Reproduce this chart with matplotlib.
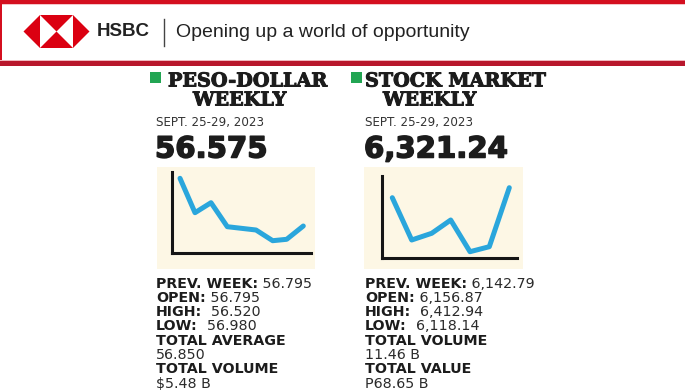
import matplotlib.pyplot as plt
from matplotlib.patches import Rectangle, Polygon
import matplotlib.patheffects as pe

W, H = 685, 391

# weekly sparkline shapes as printed (x step, height above the baseline)
peso_x = [8.3, 23.3, 39.3, 55.6, 84.3, 101.0, 115.0, 131.6]
peso_y = [74.7, 40.3, 50.3, 26.3, 23.0, 12.3, 13.7, 27.0]
psei_x = [10.6, 30.0, 50.0, 69.0, 88.3, 107.6, 127.6]
psei_y = [60.3, 18.0, 24.7, 38.0, 6.3, 11.3, 70.3]

peso_title = ["PESO-DOLLAR", "WEEKLY"]
psei_title = ["STOCK MARKET", "WEEKLY"]
week = "SEPT. 25-29, 2023"
peso_close = "56.575"
psei_close = "6,321.24"
peso_labels = ["PREV. WEEK:", "OPEN:", "HIGH:", "LOW:", "TOTAL AVERAGE", "TOTAL VOLUME"]
peso_values = ["56.795", "56.795", "56.520", "56.980", "56.850", "$5.48 B"]
psei_labels = ["PREV. WEEK:", "OPEN:", "HIGH:", "LOW:", "TOTAL VOLUME", "TOTAL VALUE"]
psei_values = ["6,142.79", "6,156.87", "6,412.94", "6,118.14", "11.46 B", "P68.65 B"]

RED = "#d40f1f"
GREEN = "#22a553"
BLUE = "#2aa6dc"
CREAM = "#fdf7e5"
INK = "#1c1c1c"

fig = plt.figure(figsize=(W / 100, H / 100), dpi=100)
bg = fig.add_axes([0, 0, 1, 1])
bg.set_xlim(0, W)
bg.set_ylim(H, 0)
bg.axis("off")

# banner
bg.add_patch(Rectangle((0, 0), W, 4.2, color=RED, lw=0))
bg.add_patch(Rectangle((0, 4.2), W, 1.2, color="#f4c4c8", lw=0))
bg.add_patch(Rectangle((0, 0), 2.5, 64, color=RED, lw=0))
bg.add_patch(Rectangle((0, 59.5), W, 1.2, color="#f0b8be", lw=0))
bg.add_patch(Rectangle((0, 60.7), W, 5, color="#b8172c", lw=0))

cx, cy, h = 56.5, 31.5, 16.5
for pts in [[(cx - 2 * h, cy), (cx - h, cy - h), (cx - h, cy + h)],
            [(cx + 2 * h, cy), (cx + h, cy - h), (cx + h, cy + h)],
            [(cx - h, cy - h), (cx + h, cy - h), (cx, cy)],
            [(cx - h, cy + h), (cx + h, cy + h), (cx, cy)]]:
    bg.add_patch(Polygon(pts, closed=True, color="#db0011", lw=0))

bg.text(97, 32, "HSBC", fontsize=13.5, fontweight="bold", family="Liberation Sans",
        color="#222222", va="center", ha="left")
bg.plot([164.5, 164.5], [19, 46], color="#444444", lw=1)
bg.text(176, 32.5, "Opening up a world of opportunity", fontsize=14,
        family="Liberation Sans", color="#222222", va="center", ha="left")

heavy = [pe.withStroke(linewidth=0.7, foreground=INK)]
thick = [pe.withStroke(linewidth=1.1, foreground=INK)]


def panel(sq_x, title_x, weekly_x, text_x, title, close, xs, ys, labels, values,
          cream, axes_box):
    bg.add_patch(Rectangle((sq_x, 72), 11, 11, color=GREEN, lw=0))
    bg.text(title_x, 86.5, title[0], fontsize=13.8, fontweight="bold", family="DejaVu Serif",
            color=INK, va="baseline", path_effects=heavy)
    bg.text(weekly_x, 105.5, title[1], fontsize=13.8, fontweight="bold", family="DejaVu Serif",
            color=INK, va="baseline", path_effects=heavy)
    bg.text(text_x, 126, week, fontsize=8.6, color="#333333", va="baseline")
    bg.text(text_x - 1, 157.5, close, fontsize=21, fontweight="heavy", color=INK,
            va="baseline", path_effects=thick)

    x0, y0, x1, y1 = cream
    bg.add_patch(Rectangle((x0, y0), x1 - x0, y1 - y0, color=CREAM, lw=0))

    ax_l, ax_b, ax_r, ax_t = axes_box
    ax = fig.add_axes([ax_l / W, 1 - ax_b / H, (ax_r - ax_l) / W, (ax_b - ax_t) / H])
    ax.patch.set_visible(False)
    ax.plot(xs, ys, color=BLUE, lw=3.6, solid_capstyle="round", solid_joinstyle="round",
            clip_on=False)
    ax.set_xlim(0, (ax_r - ax_l))
    ax.set_ylim(0, (ax_b - ax_t))
    for s in ["top", "right"]:
        ax.spines[s].set_visible(False)
    for s in ["left", "bottom"]:
        ax.spines[s].set_linewidth(2.2)
        ax.spines[s].set_color("#151515")
    ax.set_xticks([])
    ax.set_yticks([])

    base, step = 287.5, 14.3
    gaps = [" ", " ", "  ", "  "]
    row = 0
    for i, (lab, val) in enumerate(zip(labels, values)):
        y = base + step * row
        t = bg.text(text_x, y, lab, fontsize=10.3, fontweight="bold", color=INK,
                    va="baseline")
        if i < 4:
            bg.annotate(gaps[i] + val, xy=(1, 0), xycoords=t, fontsize=10.3, color="#2a2a2a",
                        va="bottom", ha="left")
            row += 1
        else:
            bg.text(text_x, y + step, val, fontsize=10.3, color="#2a2a2a", va="baseline")
            row += 2


panel(150, 168, 193, 156, peso_title, peso_close, peso_x, peso_y, peso_labels, peso_values,
      (157, 167, 315, 269), (171.7, 253, 311, 172))
panel(351, 365, 383, 365, psei_title, psei_close, psei_x, psei_y, psei_labels, psei_values,
      (364, 167, 523, 269), (381.7, 258, 517, 176))

fig.savefig("out.png", dpi=100)
